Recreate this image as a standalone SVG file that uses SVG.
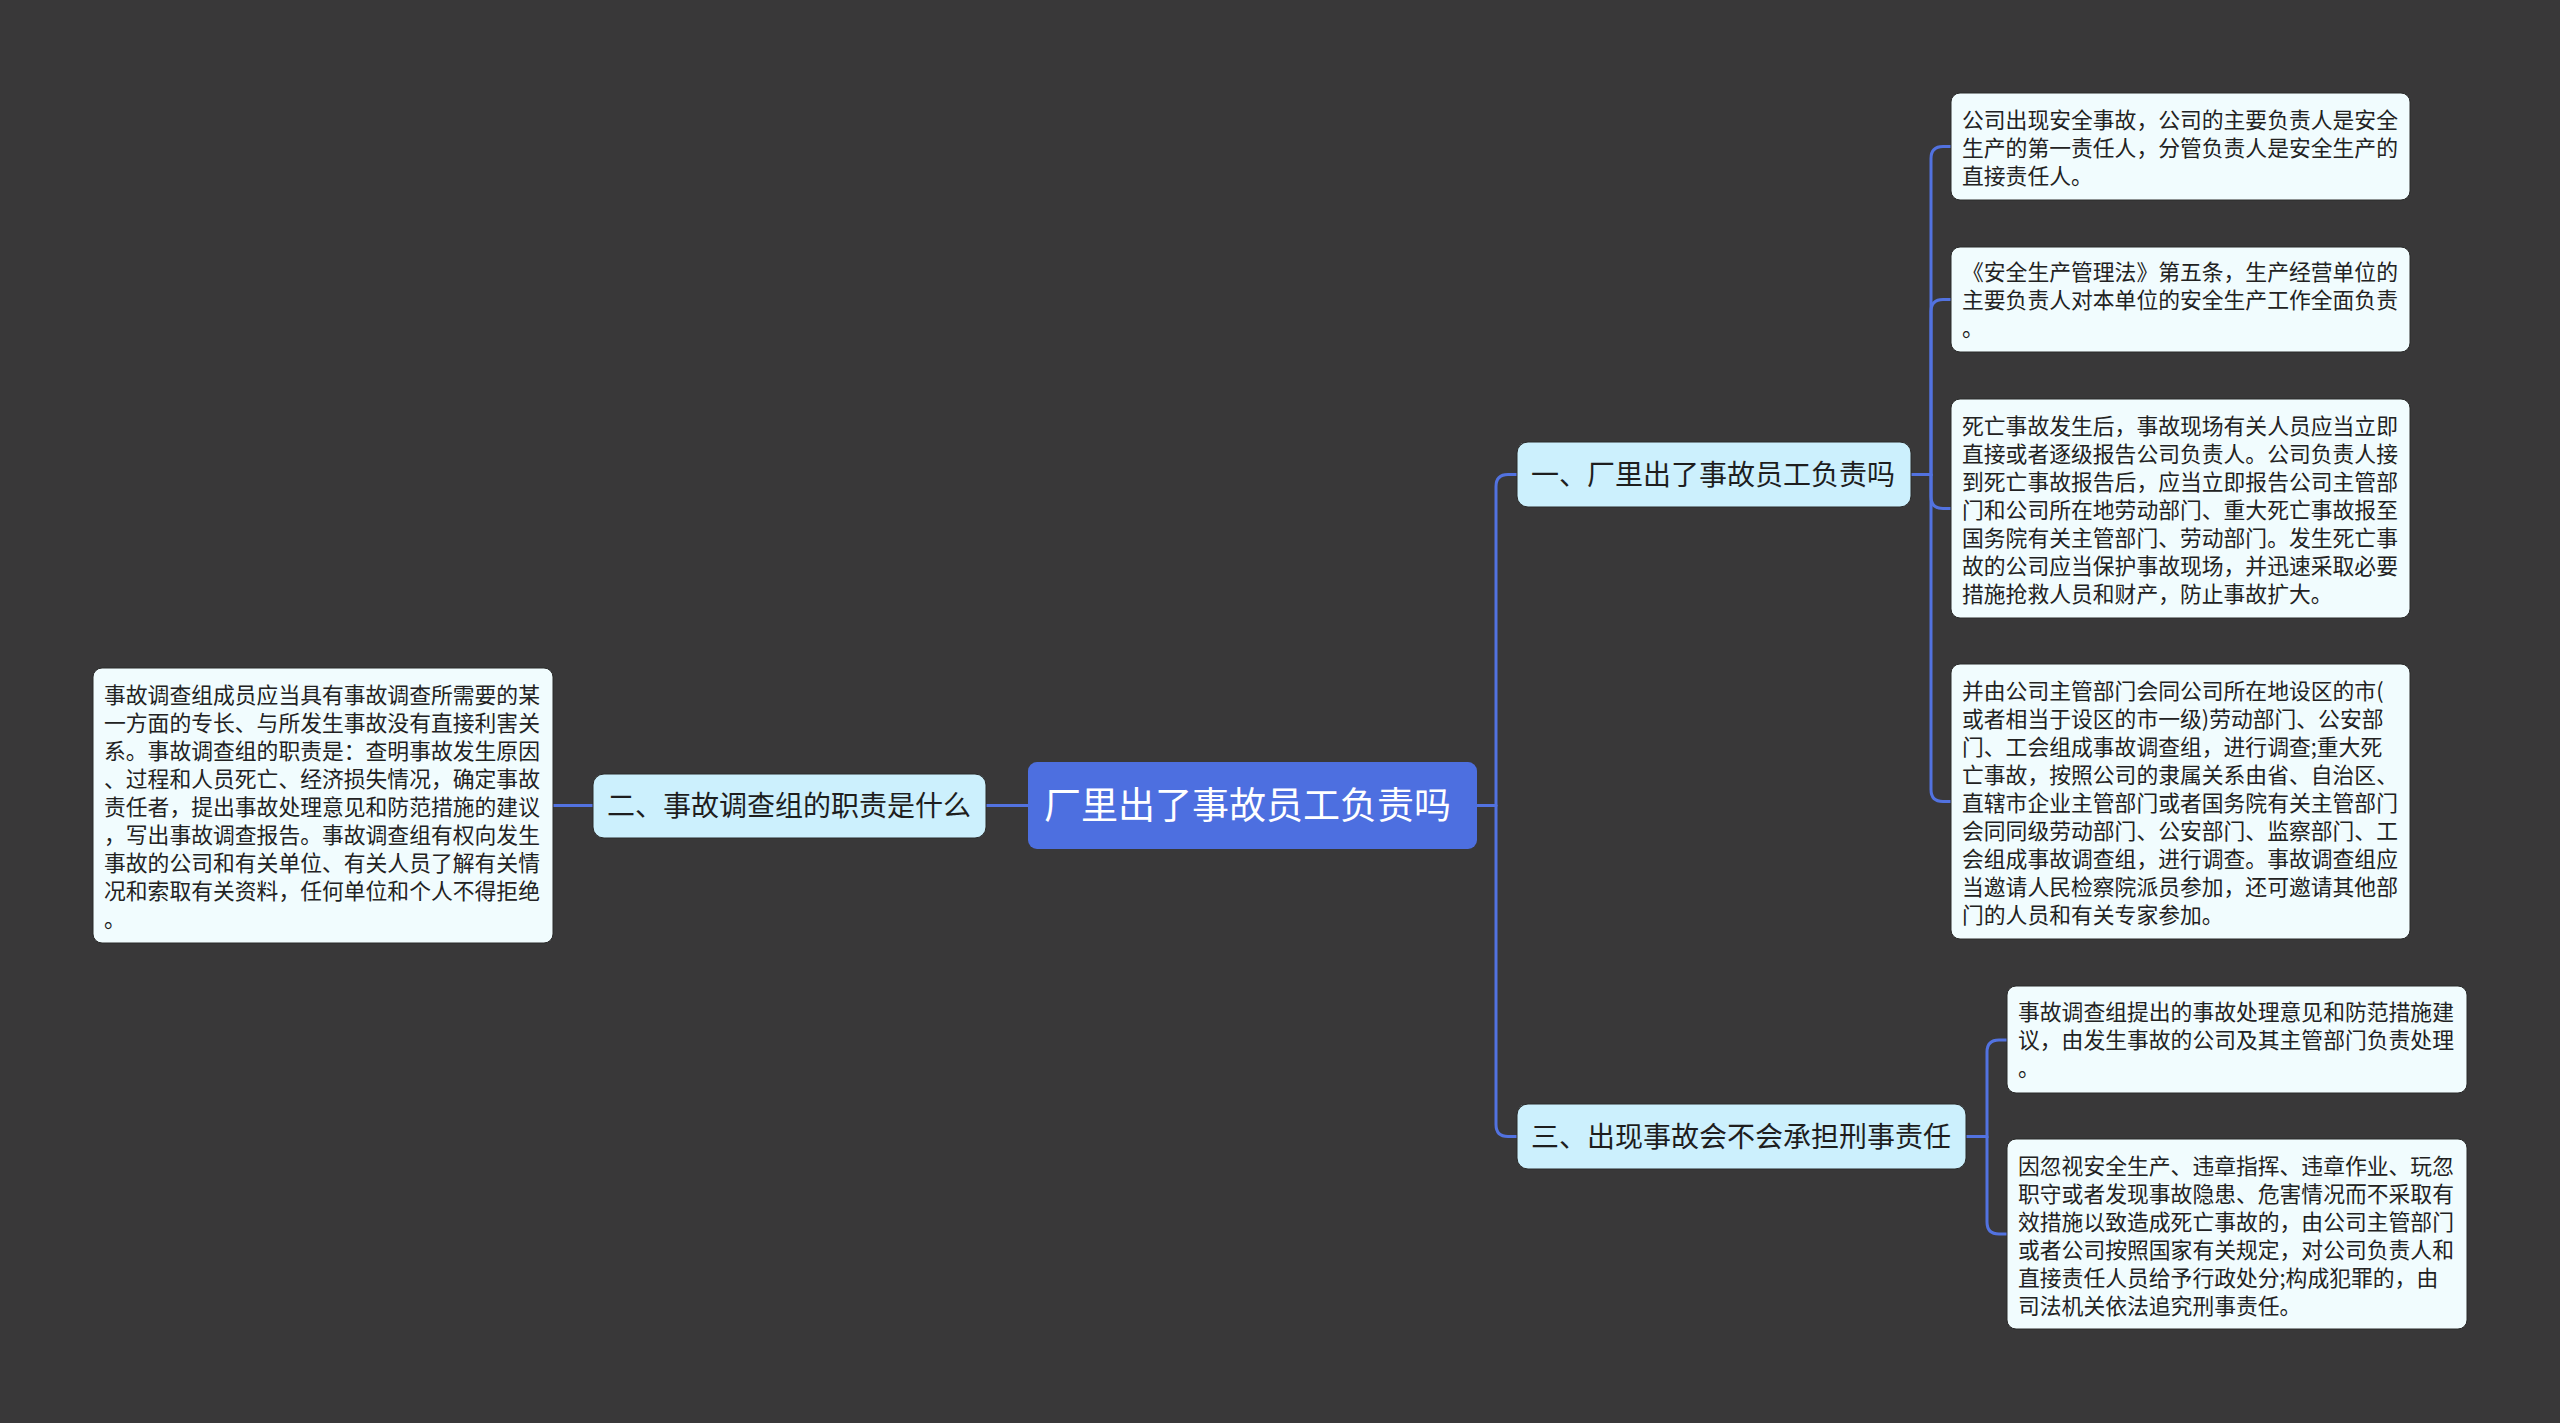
<svg xmlns="http://www.w3.org/2000/svg" width="2560" height="1423" viewBox="0 0 2560 1423">
<style>
.leaf{fill:#f1fcfe;stroke:#2a2a2a;stroke-width:1}
.sub{fill:#ccf0fd;stroke:#2a2a2a;stroke-width:1}
.root{fill:#4d6fe0}
.lt{font-family:"Noto Sans CJK SC","Noto Sans",sans-serif;font-size:21.8px;fill:#222}
.st{font-family:"Noto Sans CJK SC","Noto Sans",sans-serif;font-size:28px;fill:#1e1e1e}
.rt{font-family:"Noto Sans CJK SC","Noto Sans",sans-serif;font-size:37px;fill:#ffffff}
.ln{fill:none;stroke:#5272e0;stroke-width:3;stroke-linecap:round}
</style>
<rect x="0" y="0" width="2560" height="1423" fill="#393839"/>
<g id="connectors">
<path class="ln" d="M553,805.5 H593"/>
<path class="ln" d="M986,805.5 H1028"/>
<path class="ln" d="M1477,805.5 H1496"/>
<path class="ln" d="M1517,474.5 H1508 Q1496,474.5 1496,486.5 V1124.5 Q1496,1136.5 1508,1136.5 H1517"/>
<path class="ln" d="M1911,474.5 H1931 V158.5 Q1931,146.5 1943,146.5 H1951"/>
<path class="ln" d="M1931,474.5 V311.5 Q1931,299.5 1943,299.5 H1951"/>
<path class="ln" d="M1931,474.5 V496.5 Q1931,508.5 1943,508.5 H1951"/>
<path class="ln" d="M1931,474.5 V789.5 Q1931,801.5 1943,801.5 H1951"/>
<path class="ln" d="M1966,1136.5 H1987 V1052 Q1987,1040 1999,1040 H2007"/>
<path class="ln" d="M1987,1136.5 V1222 Q1987,1234 1999,1234 H2007"/>
</g>
<g id="root">
<rect class="root" x="1028" y="762" width="449" height="87" rx="9"/>
<text class="rt" x="1044" y="819">厂里出了事故员工负责吗</text>
</g>
<g id="n1">
<rect class="sub" x="1517" y="442" width="394" height="65" rx="11"/>
<text class="st" x="1531" y="485">一、厂里出了事故员工负责吗</text>
</g>
<g id="n2">
<rect class="sub" x="593" y="774" width="393" height="64" rx="11"/>
<text class="st" x="607" y="816">二、事故调查组的职责是什么</text>
</g>
<g id="n3">
<rect class="sub" x="1517" y="1104" width="449" height="65" rx="11"/>
<text class="st" x="1531" y="1147">三、出现事故会不会承担刑事责任</text>
</g>
<g id="leaf1">
<rect class="leaf" x="1951" y="93" width="459" height="107" rx="9"/>
<text class="lt" x="1962" y="128">公司出现安全事故，公司的主要负责人是安全</text>
<text class="lt" x="1962" y="156">生产的第一责任人，分管负责人是安全生产的</text>
<text class="lt" x="1962" y="184">直接责任人。</text>
</g>
<g id="leaf2">
<rect class="leaf" x="1951" y="247" width="459" height="105" rx="9"/>
<text class="lt" x="1962" y="280">《安全生产管理法》第五条，生产经营单位的</text>
<text class="lt" x="1962" y="308">主要负责人对本单位的安全生产工作全面负责</text>
<text class="lt" x="1962" y="336">。</text>
</g>
<g id="leaf3">
<rect class="leaf" x="1951" y="399" width="459" height="219" rx="9"/>
<text class="lt" x="1962" y="434">死亡事故发生后，事故现场有关人员应当立即</text>
<text class="lt" x="1962" y="462">直接或者逐级报告公司负责人。公司负责人接</text>
<text class="lt" x="1962" y="490">到死亡事故报告后，应当立即报告公司主管部</text>
<text class="lt" x="1962" y="518">门和公司所在地劳动部门、重大死亡事故报至</text>
<text class="lt" x="1962" y="546">国务院有关主管部门、劳动部门。发生死亡事</text>
<text class="lt" x="1962" y="574">故的公司应当保护事故现场，并迅速采取必要</text>
<text class="lt" x="1962" y="602">措施抢救人员和财产，防止事故扩大。</text>
</g>
<g id="leaf4">
<rect class="leaf" x="1951" y="664" width="459" height="275" rx="9"/>
<text class="lt" x="1962" y="699">并由公司主管部门会同公司所在地设区的市(</text>
<text class="lt" x="1962" y="727">或者相当于设区的市一级)劳动部门、公安部</text>
<text class="lt" x="1962" y="755">门、工会组成事故调查组，进行调查;重大死</text>
<text class="lt" x="1962" y="783">亡事故，按照公司的隶属关系由省、自治区、</text>
<text class="lt" x="1962" y="811">直辖市企业主管部门或者国务院有关主管部门</text>
<text class="lt" x="1962" y="839">会同同级劳动部门、公安部门、监察部门、工</text>
<text class="lt" x="1962" y="867">会组成事故调查组，进行调查。事故调查组应</text>
<text class="lt" x="1962" y="895">当邀请人民检察院派员参加，还可邀请其他部</text>
<text class="lt" x="1962" y="923">门的人员和有关专家参加。</text>
</g>
<g id="leaf5">
<rect class="leaf" x="2007" y="986" width="460" height="107" rx="9"/>
<text class="lt" x="2018" y="1020">事故调查组提出的事故处理意见和防范措施建</text>
<text class="lt" x="2018" y="1048">议，由发生事故的公司及其主管部门负责处理</text>
<text class="lt" x="2018" y="1076">。</text>
</g>
<g id="leaf6">
<rect class="leaf" x="2007" y="1139" width="460" height="190" rx="9"/>
<text class="lt" x="2018" y="1174">因忽视安全生产、违章指挥、违章作业、玩忽</text>
<text class="lt" x="2018" y="1202">职守或者发现事故隐患、危害情况而不采取有</text>
<text class="lt" x="2018" y="1230">效措施以致造成死亡事故的，由公司主管部门</text>
<text class="lt" x="2018" y="1258">或者公司按照国家有关规定，对公司负责人和</text>
<text class="lt" x="2018" y="1286">直接责任人员给予行政处分;构成犯罪的，由</text>
<text class="lt" x="2018" y="1314">司法机关依法追究刑事责任。</text>
</g>
<g id="leaf7">
<rect class="leaf" x="93" y="668" width="460" height="275" rx="9"/>
<text class="lt" x="104" y="703">事故调查组成员应当具有事故调查所需要的某</text>
<text class="lt" x="104" y="731">一方面的专长、与所发生事故没有直接利害关</text>
<text class="lt" x="104" y="759">系。事故调查组的职责是：查明事故发生原因</text>
<text class="lt" x="104" y="787">、过程和人员死亡、经济损失情况，确定事故</text>
<text class="lt" x="104" y="815">责任者，提出事故处理意见和防范措施的建议</text>
<text class="lt" x="104" y="843">，写出事故调查报告。事故调查组有权向发生</text>
<text class="lt" x="104" y="871">事故的公司和有关单位、有关人员了解有关情</text>
<text class="lt" x="104" y="899">况和索取有关资料，任何单位和个人不得拒绝</text>
<text class="lt" x="104" y="927">。</text>
</g>
</svg>
